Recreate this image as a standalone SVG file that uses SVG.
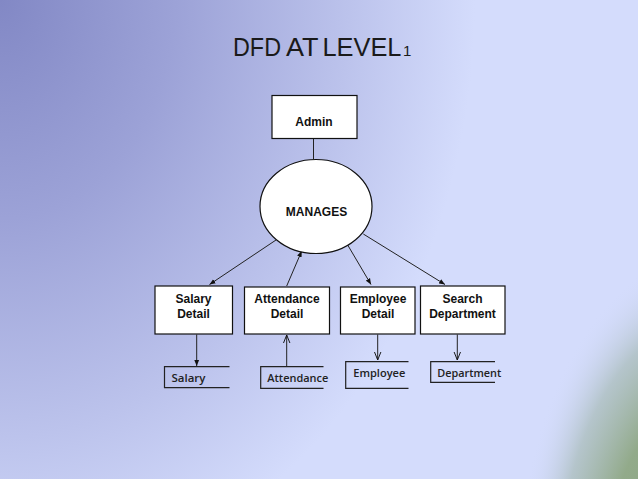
<svg xmlns="http://www.w3.org/2000/svg" width="638" height="479" viewBox="0 0 638 479">
  <defs>
    <radialGradient id="bg" gradientUnits="userSpaceOnUse" cx="0" cy="0" r="500" gradientTransform="scale(1,1.25)">
      <stop offset="0" stop-color="#8288c5"/>
      <stop offset="0.35" stop-color="#9ca2d7"/>
      <stop offset="0.7" stop-color="#bcc3ec"/>
      <stop offset="0.95" stop-color="#d4dcfc"/>
      <stop offset="1" stop-color="#d4dcfc"/>
    </radialGradient>
    <radialGradient id="green" gradientUnits="userSpaceOnUse" cx="0" cy="0" r="1" gradientTransform="translate(720,580) scale(230,380)">
      <stop offset="0" stop-color="#86a07a" stop-opacity="1"/>
      <stop offset="0.5" stop-color="#92aa8a" stop-opacity="1"/>
      <stop offset="0.7" stop-color="#aabdbb" stop-opacity="0.75"/>
      <stop offset="0.88" stop-color="#d4dcfc" stop-opacity="0"/>
    </radialGradient>
    <marker id="fill" viewBox="0 0 10 10" refX="10" refY="5" markerWidth="6" markerHeight="6" markerUnits="userSpaceOnUse" orient="auto">
      <path d="M0,1 L10,5 L0,9 Z" fill="#111"/>
    </marker>
    <marker id="open" viewBox="0 0 10 10" refX="10" refY="5" markerWidth="8" markerHeight="8" markerUnits="userSpaceOnUse" orient="auto">
      <path d="M0,1 L10,5 L0,9" fill="none" stroke="#111" stroke-width="1.2"/>
    </marker>
    <style>
      .box { fill: #ffffff; stroke: #111; stroke-width: 1.2; }
      .lbl { font-family: "Liberation Sans", Arial, sans-serif; font-weight: bold; font-size: 12px; fill: #111; text-anchor: middle; }
      .store { fill: none; stroke: #222; stroke-width: 1.2; }
      .stxt { font-family: "Open Sans", "Noto Sans", sans-serif; font-weight: 600; font-size: 11.5px; fill: #222; }
      .ln { fill: none; stroke: #222; stroke-width: 1; }
      .title { font-family: "Liberation Sans", sans-serif; fill: #1a1a1a; font-size: 26px; }
    </style>
  </defs>

  <rect x="0" y="0" width="638" height="479" fill="url(#bg)"/>
  <rect x="0" y="0" width="638" height="479" fill="url(#green)"/>

  <text class="title" y="56"><tspan x="233" textLength="48" lengthAdjust="spacingAndGlyphs">DFD</tspan> <tspan x="286" textLength="32" lengthAdjust="spacingAndGlyphs">AT</tspan> <tspan x="322.5" textLength="78" lengthAdjust="spacingAndGlyphs">LEVEL</tspan> <tspan x="403" font-size="15">1</tspan></text>

  <g id="connectors">
    <line class="ln" x1="313.5" y1="138" x2="313.5" y2="159"/>
    <line class="ln" x1="276" y1="240" x2="209.5" y2="284.5" marker-end="url(#fill)"/>
    <line class="ln" x1="286.7" y1="286" x2="301.7" y2="251" marker-end="url(#fill)"/>
    <line class="ln" x1="347.7" y1="245" x2="371" y2="284.5" marker-end="url(#fill)"/>
    <line class="ln" x1="363.3" y1="234" x2="445" y2="284.5" marker-end="url(#fill)"/>
    <line class="ln" x1="196.7" y1="334.5" x2="196.7" y2="366" marker-end="url(#fill)"/>
    <line class="ln" x1="286.7" y1="366.5" x2="286.7" y2="335" marker-end="url(#open)"/>
    <line class="ln" x1="377.7" y1="334.5" x2="377.7" y2="360" marker-end="url(#open)"/>
    <line class="ln" x1="457.3" y1="334.5" x2="457.3" y2="360" marker-end="url(#open)"/>
  </g>

  <g id="admin">
    <rect class="box" x="272" y="95.5" width="85" height="43"/>
    <text class="lbl" x="314" y="126">Admin</text>
  </g>

  <g id="manages">
    <ellipse class="box" cx="316" cy="206.5" rx="56" ry="47"/>
    <text class="lbl" x="316.5" y="216">MANAGES</text>
  </g>

  <g id="salary-detail">
    <rect class="box" x="155" y="286" width="77.5" height="48"/>
    <text class="lbl" x="193.5" y="302.5">Salary</text>
    <text class="lbl" x="193.5" y="317.5">Detail</text>
  </g>

  <g id="attendance-detail">
    <rect class="box" x="244.5" y="287" width="85" height="47"/>
    <text class="lbl" x="287" y="302.5">Attendance</text>
    <text class="lbl" x="287" y="317.5">Detail</text>
  </g>

  <g id="employee-detail">
    <rect class="box" x="340.5" y="287" width="74.5" height="47"/>
    <text class="lbl" x="378" y="302.5">Employee</text>
    <text class="lbl" x="378" y="317.5">Detail</text>
  </g>

  <g id="search-department">
    <rect class="box" x="420.5" y="286" width="84.5" height="48"/>
    <text class="lbl" x="462.5" y="302.5">Search</text>
    <text class="lbl" x="462.5" y="317.5">Department</text>
  </g>

  <g id="salary-store">
    <path class="store" d="M229.5,366.7 H164.5 V387.7 H229.5"/>
    <text class="stxt" x="171.5" y="382">Salary</text>
  </g>

  <g id="attendance-store">
    <path class="store" d="M323.5,366.7 H260.7 V388.3 H323.5"/>
    <text class="stxt" x="267.3" y="382" textLength="61" lengthAdjust="spacingAndGlyphs">Attendance</text>
  </g>

  <g id="employee-store">
    <path class="store" d="M408.5,361.7 H345.7 V388.3 H408.5"/>
    <text class="stxt" x="353.3" y="376.5" textLength="52" lengthAdjust="spacingAndGlyphs">Employee</text>
  </g>

  <g id="department-store">
    <path class="store" d="M495,361.7 H430.7 V382.3 H495"/>
    <text class="stxt" x="437.3" y="376.5" textLength="64" lengthAdjust="spacingAndGlyphs">Department</text>
  </g>
</svg>
